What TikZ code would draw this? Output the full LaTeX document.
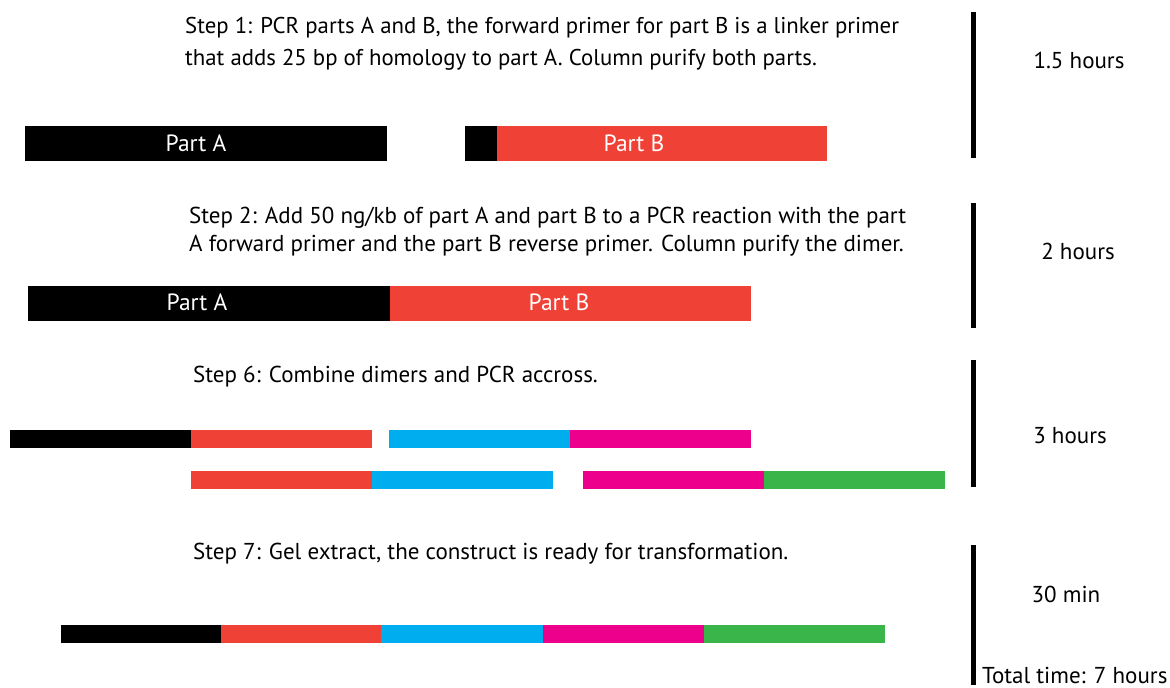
\documentclass[tikz,border=0pt]{standalone}
\usepackage{fontspec}
\setmainfont{PT Sans}
\definecolor{pred}{HTML}{EF4136}
\definecolor{pblue}{HTML}{00AEEF}
\definecolor{pmag}{HTML}{EC008C}
\definecolor{pgreen}{HTML}{39B54A}
\begin{document}
\begin{tikzpicture}[x=1pt,y=-1pt,
  seg/.style={rectangle,draw=none,inner sep=0pt,outer sep=0pt,anchor=north west},
  thick35/.style={minimum height=35pt},
  thin18/.style={minimum height=18pt},
  steptext/.style={anchor=base west,inner sep=0pt,align=left,font=\fontsize{23}{30}\selectfont},
  timetext/.style={anchor=base,inner sep=0pt,font=\fontsize{23}{25}\selectfont},
  barlabel/.style={text=white,inner sep=0pt,font=\fontsize{23.5}{25}\selectfont},
  timebar/.style={line width=5pt}]
\useasboundingbox (0,0) rectangle (1170,688);
% Step 1
\node[steptext,font=\fontsize{22.8}{32}\selectfont] (s1) at (185,65) {Step 1: PCR parts A and B, the forward primer for part B is a linker primer\\that adds 25 bp of homology to part A. Column purify both parts.};
\node[seg,thick35,fill=black,minimum width=362pt] (a1) at (25,126) {};
\node[seg,thick35,fill=black,minimum width=32pt] (l1) at (465,126) {};
\node[seg,thick35,fill=pred,minimum width=330pt] (b1) at (497,126) {};
\node[barlabel] (a1t) at (196,143) {Part A};
\node[barlabel] (b1t) at (634,143) {Part B};
\coordinate (t1a) at (973,12); \coordinate (t1b) at (973,158);
\draw[timebar] (t1a) -- (t1b);
\node[timetext] (h1) at (1079,68) {1.5 hours};
% Step 2
\node[steptext,font=\fontsize{23}{28}\selectfont] (s2) at (189,251) {Step 2: Add 50 ng/kb of part A and part B to a PCR reaction with the part\\A forward primer and the part B reverse primer. Column purify the dimer.};
\node[seg,thick35,fill=black,minimum width=362pt] (a2) at (28,286) {};
\node[seg,thick35,fill=pred,minimum width=361pt] (b2) at (390,286) {};
\node[barlabel] (a2t) at (197,302) {Part A};
\node[barlabel] (b2t) at (559,302) {Part B};
\coordinate (t2a) at (973,203); \coordinate (t2b) at (973,328);
\draw[timebar] (t2a) -- (t2b);
\node[timetext] (h2) at (1078,259) {2 hours};
% Step 6
\node[steptext] (s6) at (193,382) {Step 6: Combine dimers and PCR accross.};
\node[seg,thin18,fill=black,minimum width=181pt] (r1a) at (10,430) {};
\node[seg,thin18,fill=pred,minimum width=181pt] (r1b) at (191,430) {};
\node[seg,thin18,fill=pblue,minimum width=181pt] (r1c) at (389,430) {};
\node[seg,thin18,fill=pmag,minimum width=181pt] (r1d) at (570,430) {};
\node[seg,thin18,fill=pred,minimum width=181pt] (r2a) at (191,471) {};
\node[seg,thin18,fill=pblue,minimum width=181pt] (r2b) at (372,471) {};
\node[seg,thin18,fill=pmag,minimum width=181pt] (r2c) at (583,471) {};
\node[seg,thin18,fill=pgreen,minimum width=181pt] (r2d) at (764,471) {};
\coordinate (t3a) at (973,360); \coordinate (t3b) at (973,487);
\draw[timebar] (t3a) -- (t3b);
\node[timetext] (h3) at (1070,443) {3 hours};
% Step 7
\node[steptext] (s7) at (193,559) {Step 7: Gel extract, the construct is ready for transformation.};
\node[seg,thin18,fill=black,minimum width=160pt] (f1) at (61,625) {};
\node[seg,thin18,fill=pred,minimum width=160pt] (f2) at (221,625) {};
\node[seg,thin18,fill=pblue,minimum width=162pt] (f3) at (381,625) {};
\node[seg,thin18,fill=pmag,minimum width=161pt] (f4) at (543,625) {};
\node[seg,thin18,fill=pgreen,minimum width=181pt] (f5) at (704,625) {};
\coordinate (t4a) at (973,545); \coordinate (t4b) at (973,685);
\draw[timebar] (t4a) -- (t4b);
\node[timetext] (h4) at (1066,602) {30 min};
\node[anchor=base west,inner sep=0pt,font=\fontsize{23}{25}\selectfont] (tot) at (982,683) {Total time: 7 hours};
\end{tikzpicture}
\end{document}
